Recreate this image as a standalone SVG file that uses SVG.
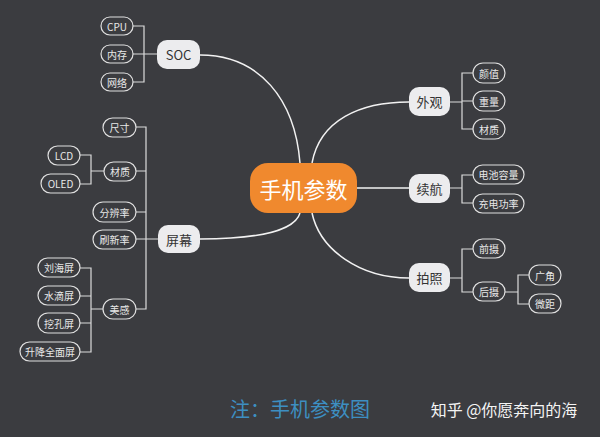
<svg xmlns="http://www.w3.org/2000/svg" width="600" height="437" viewBox="0 0 600 437">
<style>
text{font-family:"Noto Sans CJK SC","Liberation Sans",sans-serif;text-anchor:middle;dominant-baseline:central}
.l{fill:#3b3c40;stroke:#e0e0e0;stroke-width:1.2}
.lt{fill:#e8e8e8;font-size:10px}
.m{fill:#ececee}
.mt{fill:#333;font-size:13px}
.c{fill:none;stroke:#f2f2f2;stroke-width:1.5}
.b{fill:none;stroke:#dcdcdc;stroke-width:1.2}
</style>
<rect width="600" height="437" fill="#3b3c40"/>
<g id="connectors">
<path class="c" d="M200,55 C260,55 295,100 300,163"/>
<path class="c" d="M200,239 C260,239 295,230 300,213"/>
<path class="c" d="M312,163 C320,120 360,102 409,102"/>
<path class="c" d="M357,188 L409,188"/>
<path class="c" d="M312,213 C320,250 360,278 409,278"/>
<path class="b" d="M133,26 H144 V82 H133 M133,54 H157"/>
<path class="b" d="M136,127 H146 V309 H136 M136,171 H146 M136,212 H146 M136,239 H158"/>
<path class="b" d="M80,155 H91 V184 H80 M91,171 H104"/>
<path class="b" d="M80,268 H91 V352 H80 M80,296 H91 M80,323 H91 M91,309 H103"/>
<path class="b" d="M450,102 H462 M473,73 H462 V129 H473 M462,101 H473"/>
<path class="b" d="M450,188 H462 M473,175 H462 V203 H473"/>
<path class="b" d="M450,278 H462 M473,249 H462 V292 H473"/>
<path class="b" d="M505,292 H518 M529,275 H518 V304 H529"/>
</g>
<g id="center"><rect x="250" y="163" width="107" height="50" rx="18" fill="#f0892e"/><text x="303.5" y="188" fill="#fff" font-size="22">手机参数</text></g>
<g id="soc"><rect class="m" x="157" y="40" width="43" height="29" rx="10"/><text class="mt" x="178.5" y="54.5">SOC</text></g>
<g id="cpu"><rect class="l" x="101" y="17" width="32" height="18" rx="9"/><text class="lt" x="117" y="26">CPU</text></g>
<g id="ram"><rect class="l" x="101" y="45" width="32" height="18" rx="9"/><text class="lt" x="117" y="54">内存</text></g>
<g id="net"><rect class="l" x="101" y="73" width="32" height="18" rx="9"/><text class="lt" x="117" y="82">网络</text></g>
<g id="screen"><rect class="m" x="158" y="225" width="42" height="28" rx="10"/><text class="mt" x="179" y="239">屏幕</text></g>
<g id="size"><rect class="l" x="103" y="118" width="33" height="19" rx="9.5"/><text class="lt" x="119.5" y="127.5">尺寸</text></g>
<g id="mat"><rect class="l" x="104" y="162" width="32" height="19" rx="9.5"/><text class="lt" x="120" y="171.5">材质</text></g>
<g id="lcd"><rect class="l" x="48" y="146" width="32" height="19" rx="9.5"/><text class="lt" x="64" y="155.5">LCD</text></g>
<g id="oled"><rect class="l" x="41" y="174" width="39" height="19" rx="9.5"/><text class="lt" x="60.5" y="183.5">OLED</text></g>
<g id="res"><rect class="l" x="93" y="202" width="43" height="20" rx="10"/><text class="lt" x="114.5" y="212">分辨率</text></g>
<g id="refresh"><rect class="l" x="93" y="230" width="43" height="19" rx="9.5"/><text class="lt" x="114.5" y="239.5">刷新率</text></g>
<g id="beauty"><rect class="l" x="103" y="299" width="33" height="20" rx="10"/><text class="lt" x="119.5" y="309">美感</text></g>
<g id="notch"><rect class="l" x="38" y="258" width="42" height="19" rx="9.5"/><text class="lt" x="59" y="267.5">刘海屏</text></g>
<g id="drop"><rect class="l" x="38" y="286" width="42" height="19" rx="9.5"/><text class="lt" x="59" y="295.5">水滴屏</text></g>
<g id="hole"><rect class="l" x="38" y="313" width="42" height="20" rx="10"/><text class="lt" x="59" y="323">挖孔屏</text></g>
<g id="popup"><rect class="l" x="20" y="342" width="60" height="19" rx="9.5"/><text class="lt" x="50" y="351.5">升降全面屏</text></g>
<g id="look"><rect class="m" x="409" y="87" width="41" height="29" rx="10"/><text class="mt" x="429.5" y="101.5">外观</text></g>
<g id="face"><rect class="l" x="473" y="63" width="32" height="20" rx="10"/><text class="lt" x="489" y="73">颜值</text></g>
<g id="weight"><rect class="l" x="473" y="91" width="32" height="20" rx="10"/><text class="lt" x="489" y="101">重量</text></g>
<g id="mat2"><rect class="l" x="473" y="119" width="32" height="20" rx="10"/><text class="lt" x="489" y="129">材质</text></g>
<g id="battery"><rect class="m" x="409" y="174" width="41" height="29" rx="10"/><text class="mt" x="429.5" y="188.5">续航</text></g>
<g id="cap"><rect class="l" x="473" y="165" width="51" height="19" rx="9.5"/><text class="lt" x="498.5" y="174.5">电池容量</text></g>
<g id="charge"><rect class="l" x="473" y="194" width="51" height="19" rx="9.5"/><text class="lt" x="498.5" y="203.5">充电功率</text></g>
<g id="photo"><rect class="m" x="409" y="263" width="41" height="29" rx="10"/><text class="mt" x="429.5" y="277.5">拍照</text></g>
<g id="front"><rect class="l" x="473" y="239" width="32" height="19" rx="9.5"/><text class="lt" x="489" y="248.5">前摄</text></g>
<g id="rear"><rect class="l" x="473" y="282" width="32" height="19" rx="9.5"/><text class="lt" x="489" y="291.5">后摄</text></g>
<g id="wide"><rect class="l" x="529" y="265" width="32" height="20" rx="10"/><text class="lt" x="545" y="275">广角</text></g>
<g id="macro"><rect class="l" x="529" y="294" width="32" height="19" rx="9.5"/><text class="lt" x="545" y="303.5">微距</text></g>
<text x="300" y="408" fill="#3d8fc2" font-size="20">注：手机参数图</text>
<text x="504" y="409" fill="#f4f4f4" font-size="16">知乎 @你愿奔向的海</text>
</svg>
